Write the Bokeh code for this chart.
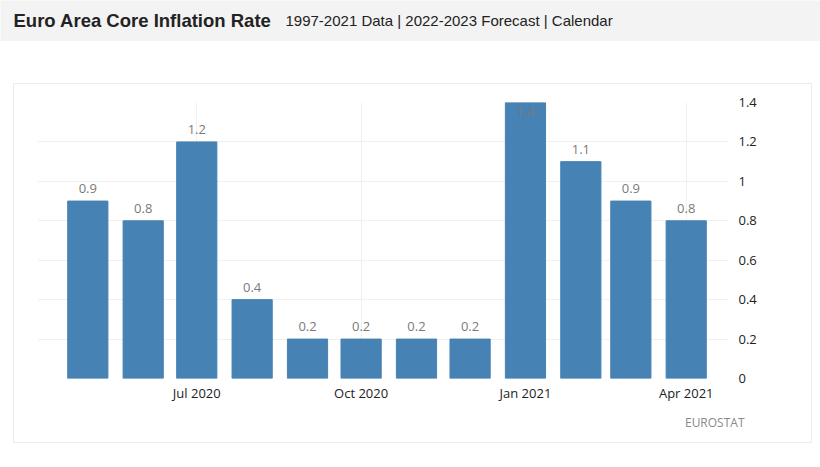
from datetime import datetime
from bokeh.plotting import figure
from bokeh.layouts import column, row
from bokeh.models import (Range1d, FixedTicker, DatetimeTickFormatter, NumeralTickFormatter,
                          LinearAxis, Title, Spacer, ColumnDataSource)
from bokeh.core.properties import value
from bokeh.embed import file_html
from bokeh.resources import INLINE

# ---- data ----
months = ["2020-05-01", "2020-06-01", "2020-07-01", "2020-08-01", "2020-09-01", "2020-10-01",
          "2020-11-01", "2020-12-01", "2021-01-01", "2021-02-01", "2021-03-01", "2021-04-01"]
rates = [0.9, 0.8, 1.2, 0.4, 0.2, 0.2, 0.2, 0.2, 1.4, 1.1, 0.9, 0.8]
rate_labels = ["0.9", "0.8", "1.2", "0.4", "0.2", "0.2", "0.2", "0.2", "1.4", "1.1", "0.9", "0.8"]
x_ticks = ["2020-07-01", "2020-10-01", "2021-01-01", "2021-04-01"]
y_ticks = [0, 0.2, 0.4, 0.6, 0.8, 1.0, 1.2, 1.4]
title_text = "Euro Area Core Inflation Rate"
subtitle_text = "1997-2021 Data | 2022-2023 Forecast | Calendar"
source_text = "EUROSTAT"

FONT = "Open Sans"
YMAX = 1.4

dates = [datetime.strptime(m, "%Y-%m-%d") for m in months]
tick_ms = [datetime.strptime(t, "%Y-%m-%d").timestamp() * 1000 for t in x_ticks]
label_y = [v + 0.063 if v + 0.1 <= YMAX else v - 0.045 for v in rates]

src = ColumnDataSource(dict(x=dates, top=rates, ly=label_y, lab=rate_labels))

# ---- header ----
HW, HH = 820, 41
hdr = figure(width=HW, height=HH, x_range=Range1d(0, HW), y_range=Range1d(HH, 0),
             x_axis_type=None, y_axis_type=None, toolbar_location=None,
             output_backend="svg", min_border=0)
hdr.background_fill_color = "#f3f3f3"
hdr.border_fill_color = "#f3f3f3"
hdr.outline_line_color = None
hdr.grid.visible = False
hdr.text(x=[13], y=[20], text=[title_text], text_font=value("Liberation Sans"),
         text_font_size="18.5px", text_font_style="bold", text_color="#222222",
         text_baseline="middle", text_align="left")
hdr.text(x=[285], y=[20], text=[subtitle_text], text_font=value("Liberation Sans"),
         text_font_size="15px", text_color="#222222",
         text_baseline="middle", text_align="left")

# ---- main chart ----
x0 = datetime(2020, 4, 2, 20)
x1 = datetime(2021, 4, 24, 16)
p = figure(width=799, height=360, x_axis_type="datetime",
           x_range=Range1d(x0, x1), y_range=Range1d(0, YMAX),
           toolbar_location=None, output_backend="svg", y_axis_location=None,
           min_border_left=23, min_border_right=85, min_border_top=18, min_border_bottom=66)
p.styles = {"border": "1px solid #ececec"}
p.outline_line_color = None
p.background_fill_color = "white"
p.border_fill_color = "white"

bar_w = 22.5 * 86400000
p.vbar(x="x", top="top", width=bar_w, bottom=0, source=src,
       fill_color="#4682b4", line_color="#4682b4")
p.text(x="x", y="ly", text="lab", source=src, text_font=value(FONT), text_font_size="13px",
       text_color="#7a7a7a", text_align="center", text_baseline="middle")

xa = p.xaxis[0]
xa.ticker = FixedTicker(ticks=tick_ms)
xa.formatter = DatetimeTickFormatter(months="%b %Y", days="%b %Y", years="%b %Y")
xa.axis_line_color = None
xa.major_tick_line_color = None
xa.minor_tick_line_color = None
xa.major_tick_out = 0
xa.major_tick_in = 0
xa.major_label_standoff = 5
xa.major_label_text_font = FONT
xa.major_label_text_font_size = "13px"
xa.major_label_text_color = "#222222"

ya = LinearAxis(ticker=FixedTicker(ticks=y_ticks), formatter=NumeralTickFormatter(format="0.[0]"))
ya.axis_line_color = None
ya.major_tick_line_color = None
ya.minor_tick_line_color = None
ya.major_tick_out = 0
ya.major_tick_in = 0
ya.major_label_standoff = 10
ya.major_label_text_font = FONT
ya.major_label_text_font_size = "13px"
ya.major_label_text_color = "#222222"
p.add_layout(ya, "right")

p.xgrid.grid_line_color = "#f0f0f0"
p.ygrid.grid_line_color = "#f0f0f0"
p.ygrid.ticker = FixedTicker(ticks=y_ticks)

src_title = Title(text=source_text, align="right", offset=-16, standoff=15,
                  text_font=FONT, text_font_size="12px", text_font_style="normal",
                  text_color="#8a8a8a")
p.add_layout(src_title, "below")

layout = column(hdr, Spacer(height=42), row(Spacer(width=13), p))
open("out.html", "w").write(file_html(layout, INLINE))
